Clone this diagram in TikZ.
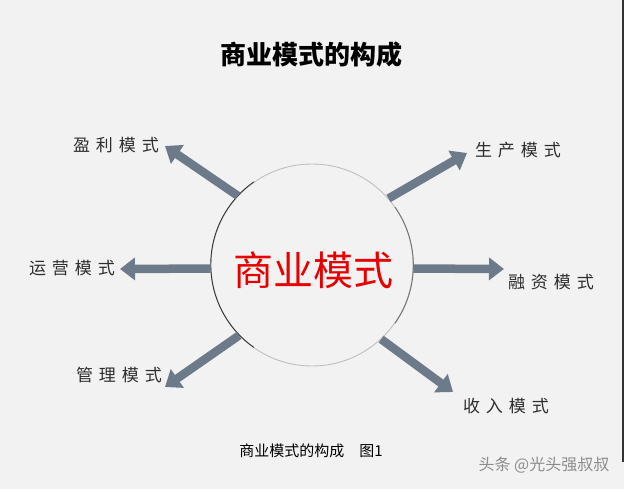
\documentclass[tikz,border=0pt]{standalone}
\usepackage{fontspec}
\newfontfamily\cjk{Noto Sans CJK SC}
\usetikzlibrary{arrows.meta}
\usetikzlibrary{positioning}

\definecolor{bggray}{RGB}{242,242,242}
\definecolor{arrowgray}{RGB}{108,122,138}
\definecolor{corered}{RGB}{230,0,0}
\definecolor{labelgray}{RGB}{45,45,45}
\newcommand{\modelabel}[4]{#1\kern6pt#2\kern6pt#3\kern6pt#4}

\tikzset{
  modetext/.style={font=\cjk\fontsize{17}{17}\selectfont,text=labelgray,inner sep=0pt},
  bigarrow/.style={draw=arrowgray,line width=8.5pt,line cap=butt,-{Triangle[length=15pt,width=22pt]}}
}

\begin{document}
\begin{tikzpicture}[line cap=round,line join=round,x=1pt,y=-1pt]
\useasboundingbox (0,0) rectangle (624,489);
\fill[bggray] (0,0) rectangle (624,489);
\fill[black!80] (622,0) rectangle (624,462);
\node[font=\cjk\bfseries\fontsize{26}{26}\selectfont] (title) at (311,55) {商业模式的构成};
% centre
\node[circle,draw=black!25,line width=0.9pt,minimum size=202pt,inner sep=0pt] (core) at (312,265) {};
\draw[black!80,line width=0.9pt] (core.125) arc[start angle=235,end angle=125,radius=101];
\draw[black!55,line width=0.9pt] (core.325) arc[start angle=35,end angle=-35,radius=101];
\node[font=\cjk\fontsize{40}{40}\selectfont,text=corered,inner sep=0pt] (coretitle) at (313,270) {商业模式};
% the six modes
\node[modetext] (profit) at (116,145) {\modelabel{盈}{利}{模}{式}};
\node[modetext] (operate) at (72,268) {\modelabel{运}{营}{模}{式}};
\node[modetext] (manage) at (119,375) {\modelabel{管}{理}{模}{式}};
\node[modetext] (produce) at (518,150) {\modelabel{生}{产}{模}{式}};
\node[modetext] (finance) at (551,282) {\modelabel{融}{资}{模}{式}};
\node[modetext] (income) at (506,406) {\modelabel{收}{入}{模}{式}};
\coordinate (profittip) at (165,146);
\coordinate (operatetip) at (120,269);
\coordinate (managetip) at (165,387);
\coordinate (producetip) at (467,153);
\coordinate (financetip) at (504,269);
\coordinate (incometip) at (453,392);
\draw[bigarrow] (core.137) -- (profittip);
\draw[bigarrow] (core.182) -- (operatetip);
\draw[bigarrow] (core.224) -- (managetip);
\draw[bigarrow] (core.41) -- (producetip);
\draw[bigarrow] (core.358) -- (financetip);
\draw[bigarrow] (core.313) -- (incometip);
% caption
\node[font=\cjk\fontsize{15}{15}\selectfont,inner sep=0pt] (caption) at (311,451) {商业模式的构成\quad 图1};
\node[font=\cjk\fontsize{16}{16}\selectfont,text=black!45,inner sep=0pt] (mark) at (544,465) {头条 @光头强叔叔};
\end{tikzpicture}
\end{document}
